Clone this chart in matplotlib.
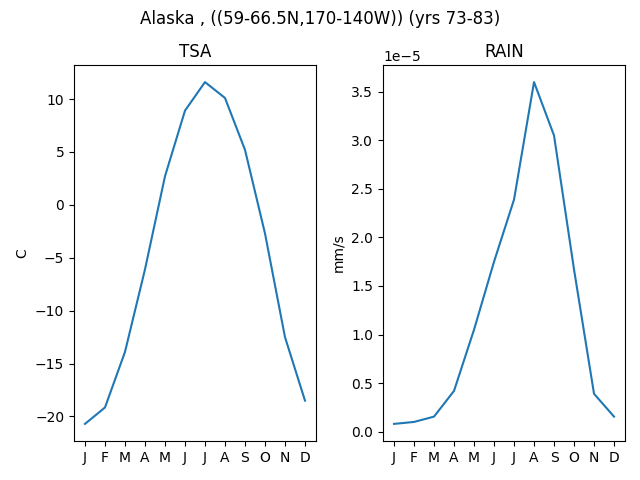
import matplotlib
matplotlib.use("Agg")
import matplotlib.pyplot as plt

months = ["J", "F", "M", "A", "M", "J", "J", "A", "S", "O", "N", "D"]
tsa = [-20.7, -19.15, -13.9, -6.1, 2.7, 8.9, 11.6, 10.1, 5.2, -2.7, -12.5, -18.5]
rain = [0.08e-5, 0.10e-5, 0.155e-5, 0.42e-5, 1.05e-5, 1.75e-5, 2.39e-5, 3.60e-5, 3.05e-5, 1.67e-5, 0.39e-5, 0.155e-5]

fig, axes = plt.subplots(1, 2, figsize=(6.4, 4.8), dpi=100)
x = list(range(12))

axes[0].plot(x, tsa)
axes[0].set_title("TSA")
axes[0].set_ylabel("C")
axes[0].set_xticks(x)
axes[0].set_xticklabels(months)

axes[1].plot(x, rain)
axes[1].set_title("RAIN")
axes[1].set_ylabel("mm/s")
axes[1].set_xticks(x)
axes[1].set_xticklabels(months)

fig.suptitle("Alaska , ((59-66.5N,170-140W)) (yrs 73-83)")
fig.subplots_adjust(left=0.1156, right=0.9766, top=0.8646, bottom=0.0813, wspace=0.277)
fig.savefig("out.png")
